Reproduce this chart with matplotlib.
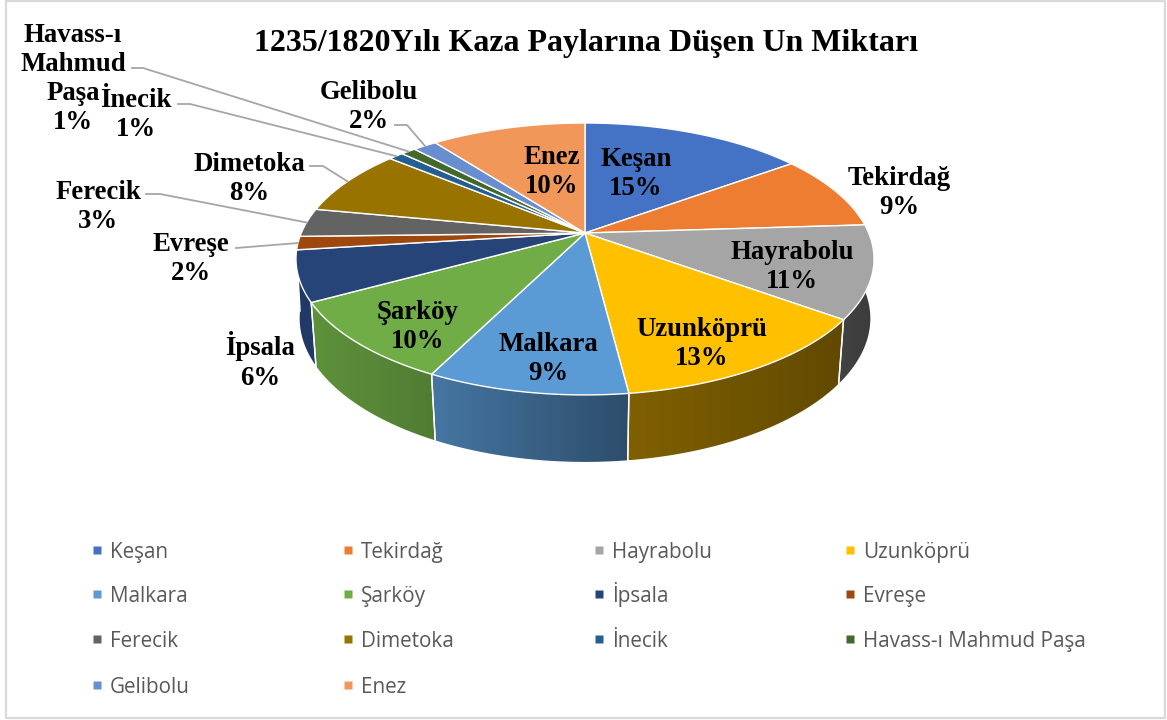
import numpy as np
import matplotlib.pyplot as plt
from matplotlib.colors import to_rgb

title = "1235/1820Yılı Kaza Paylarına Düşen Un Miktarı"
names = ["Keşan", "Tekirdağ", "Hayrabolu", "Uzunköprü", "Malkara", "Şarköy", "İpsala",
         "Evreşe", "Ferecik", "Dimetoka", "İnecik", "Havass-ı Mahmud Paşa", "Gelibolu", "Enez"]
label_names = list(names)
label_names[11] = "Havass-ı\nMahmud\nPaşa"
values = [15, 9, 11, 13, 9.4, 9.6, 6, 1.6, 3.4, 8, 1, 1, 1.6, 10.4]
colors = ["#4472C4", "#ED7D31", "#A5A5A5", "#FFC000", "#5B9BD5", "#70AD47", "#264478",
          "#9E480E", "#636363", "#997300", "#255E91", "#43682B", "#698ED0", "#F1975A"]

# side brightness, left and right end of the gradient
side_shade = {2: (0.40, 0.36), 3: (0.50, 0.38), 4: (0.76, 0.50), 5: (0.84, 0.72), 6: (0.85, 0.85)}

# label centre in pixels, and elbow of the leader line if it has one
label_pos = [(636, 174), (899, 193), (792, 267), (702, 344), (548, 359), (418, 327), (260, 361),
             (191, 259), (98, 207), (249, 179), (136, 115), (73, 79), (369, 107), (552, 172)]
leaders = {7: [(236, 248)], 8: [(146, 194), (160, 194)], 9: [(310, 166), (323, 166)],
           10: [(178, 104), (190, 104)], 11: [(132, 68), (143, 68)], 12: [(395, 125), (407, 125)]}

# pie geometry in pixels
cx, cy = 585, 233
A, B, k = 283.7, 131, 0.191
low_x0, low_x1, low_y, low_d = 0.99, 0.015, 1.04, 60.5

# legend grid
leg_x = [103, 354, 605, 856]
leg_y = [550, 594, 639, 685]


def top_rim(theta):
    den = 1 + k * np.cos(theta)
    return cx + A * np.sin(theta) / den, cy - B * np.cos(theta) / den


def low_rim(theta):
    x, y = top_rim(theta)
    return cx + (x - cx) * (low_x0 + low_x1 * np.cos(theta)), cy + (y - cy) * low_y + low_d


fig = plt.figure(figsize=(11.67, 7.2), dpi=100)
ax = fig.add_axes([0, 0, 1, 1])
ax.set_xlim(0, 1167)
ax.set_ylim(720, 0)
ax.axis("off")

serif = "Liberation Serif"
edges = np.radians(np.cumsum([0] + values) * 3.6)

# sides, back to front
order = np.argsort(-np.cos((edges[:-1] + edges[1:]) / 2))
for i in order:
    if i not in side_shade:
        continue
    th = np.linspace(edges[i], edges[i + 1], 80)
    x1, y1 = top_rim(th)
    x2, y2 = low_rim(th)
    px = np.r_[x1, x2[::-1]]
    py = np.r_[y1, y2[::-1]]
    poly = ax.fill(px, py, color="none", zorder=1)[0]
    left, right = side_shade[i]
    shade = np.linspace(left, right, 128)[None, :, None]
    img = shade * np.array(to_rgb(colors[i]))[None, None, :]
    im = ax.imshow(img, extent=(px.min(), px.max(), py.max(), py.min()), aspect="auto", zorder=1,
                   interpolation="bilinear")
    im.set_clip_path(poly)
    for e in (0, -1):
        ax.plot([x1[e], x2[e]], [y1[e], y2[e]], color="white", lw=1, zorder=1.5)
ax.set_xlim(0, 1167)
ax.set_ylim(720, 0)

# top face
for i, c in enumerate(colors):
    th = np.linspace(edges[i], edges[i + 1], 80)
    x, y = top_rim(th)
    ax.fill(np.r_[cx, x], np.r_[cy, y], facecolor=c, edgecolor="white", lw=1, zorder=2)

# leader lines go to the middle of the slice rim
for i, pts in leaders.items():
    ex, ey = top_rim((edges[i] + edges[i + 1]) / 2)
    xs = [p[0] for p in pts] + [ex]
    ys = [p[1] for p in pts] + [ey]
    ax.plot(xs, ys, color="#a6a6a6", lw=1.3, zorder=3)

# data labels
for i, name in enumerate(label_names):
    ax.text(label_pos[i][0], label_pos[i][1], f"{name}\n{round(values[i])}%", ha="center", va="center",
            family=serif, weight="bold", fontsize=19.3, linespacing=1.22, color="black", zorder=4)

ax.text(586, 43, title, ha="center", va="center", family=serif, weight="bold", fontsize=23, color="black")

# legend, filled row by row
for i, name in enumerate(names):
    r, c = divmod(i, 4)
    ax.plot(leg_x[c] - 6, leg_y[r], "s", ms=5.8, color=colors[i], mec="none")
    ax.text(leg_x[c] + 7, leg_y[r] + 8, name, ha="left", va="baseline", family="Open Sans", fontsize=14.9, color="#595959")

# chart border
ax.plot([6, 1165, 1165, 6, 6], [1, 1, 718, 718, 1], color="#d9d9d9", lw=1.6, clip_on=False)

fig.savefig("out.png", dpi=100)
